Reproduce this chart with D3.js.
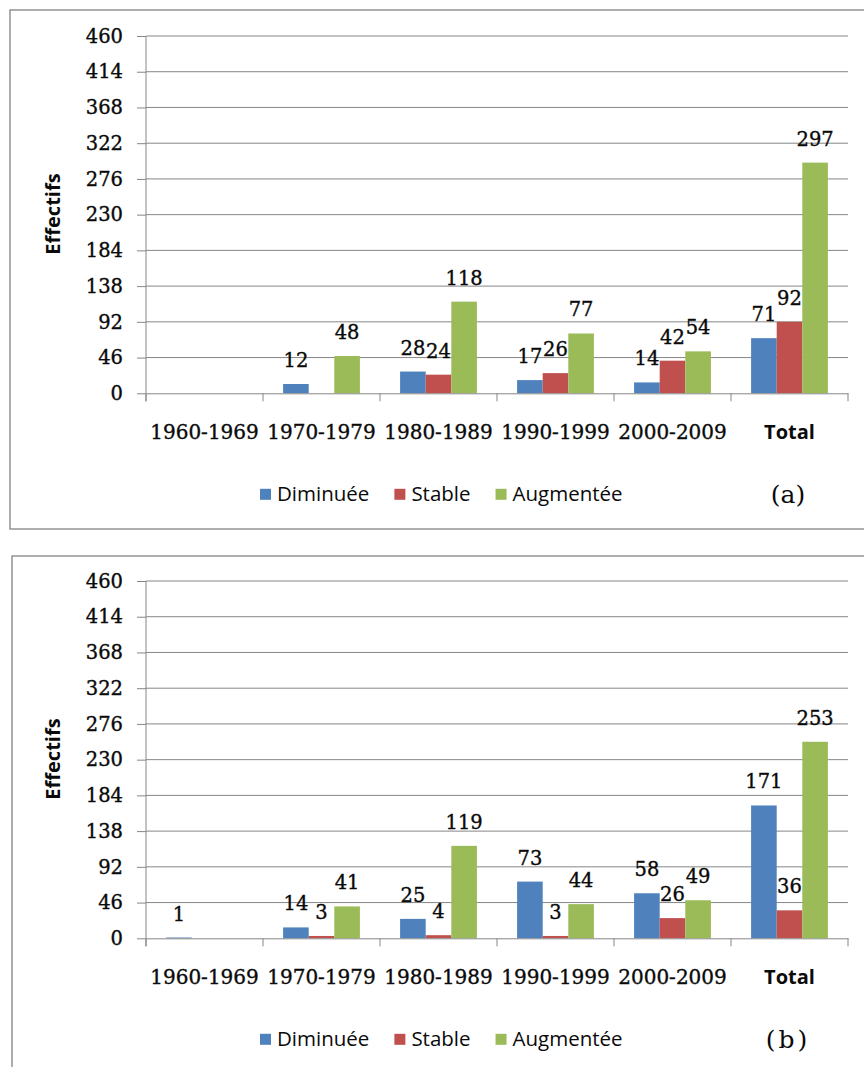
<!DOCTYPE html>
<html>
<head>
<meta charset="utf-8">
<script src="https://cdn.jsdelivr.net/npm/d3@7"></script>
<style>
  html, body { margin: 0; padding: 0; background: #ffffff; }
  svg { display: block; }
</style>
</head>
<body>
<svg id="chart" width="864" height="1067"></svg>
<script>
// ---------- data ----------
const categories = ["1960-1969", "1970-1979", "1980-1989", "1990-1999", "2000-2009", "Total"];
const seriesNames = ["Diminuée", "Stable", "Augmentée"];
const seriesColors = ["#4F81BD", "#C0504D", "#9BBB59"];
const yTicks = [0, 46, 92, 138, 184, 230, 276, 322, 368, 414, 460];
const yLabel = "Effectifs";

// panel (a)
const diminueeA  = [0, 12, 28, 17, 14, 71];
const stableA    = [0, 0, 24, 26, 42, 92];
const augmenteeA = [0, 48, 118, 77, 54, 297];
// panel (b)
const diminueeB  = [1, 14, 25, 73, 58, 171];
const stableB    = [0, 3, 4, 3, 26, 36];
const augmenteeB = [0, 41, 119, 44, 49, 253];

const panelLabels = ["(a)", "(b)"];

const panels = [
  { label: panelLabels[0], series: [diminueeA, stableA, augmenteeA], offsetY: 0, frameX: 10, frameY: 10, frameH: 519, labelSpacing: 0 },
  { label: panelLabels[1], series: [diminueeB, stableB, augmenteeB], offsetY: 545, frameX: 12, frameY: 556, frameH: 600, labelSpacing: 3 }
];

// ---------- layout ----------
const plotLeft = 146, plotRight = 848, plotTop = 36, plotBottom = 393.3;
const gridColor = "#868686";
const serif = "'DejaVu Serif', serif";
const sans = "'Open Sans', 'Noto Sans', sans-serif";
const textColor = "#0a0a0a";

const svg = d3.select("#chart");

const x = d3.scaleBand().domain(categories).range([plotLeft, plotRight]).paddingInner(0).paddingOuter(0);
const xs = d3.scaleBand().domain(seriesNames).range([0, x.bandwidth()]).paddingInner(0).paddingOuter(0.785);
const y = d3.scaleLinear().domain([0, 460]).range([plotBottom, plotTop]);

function heavy(sel) {
  return sel.attr("fill", textColor).attr("stroke", textColor).attr("stroke-width", 0.35);
}

panels.forEach(p => {
  // frame
  svg.append("rect")
    .attr("x", p.frameX).attr("y", p.frameY)
    .attr("width", 900).attr("height", p.frameH)
    .attr("fill", "none").attr("stroke", "#8c8c8c").attr("stroke-width", 1.4);

  const g = svg.append("g").attr("transform", `translate(0,${p.offsetY})`);

  // gridlines
  g.append("g").selectAll("line").data(yTicks.filter(t => t > 0)).join("line")
    .attr("x1", plotLeft).attr("x2", plotRight)
    .attr("y1", d => y(d)).attr("y2", d => y(d))
    .attr("stroke", gridColor).attr("stroke-width", 1);

  // y axis
  const yAxis = g.append("g").attr("transform", `translate(${plotLeft},0)`)
    .call(d3.axisLeft(y).tickValues(yTicks).tickSize(9).tickPadding(14).tickSizeOuter(0));
  yAxis.select(".domain").attr("stroke", gridColor).attr("d", `M0,${plotTop}V${plotBottom + 8}`);
  yAxis.selectAll(".tick line").attr("stroke", gridColor);
  heavy(yAxis.selectAll(".tick text").attr("font-family", serif).attr("font-size", 19.5));

  // y axis title
  g.append("text")
    .attr("transform", `translate(60,214) rotate(-90)`)
    .attr("text-anchor", "middle")
    .attr("font-family", sans).attr("font-weight", 700).attr("font-size", 20)
    .attr("fill", textColor)
    .text(yLabel);

  // bars
  seriesNames.forEach((s, si) => {
    const vals = p.series[si];
    g.append("g").selectAll("rect").data(categories.map((c, i) => ({ c, v: vals[i] }))).join("rect")
      .attr("x", d => x(d.c) + xs(s))
      .attr("width", xs.bandwidth())
      .attr("y", d => y(d.v))
      .attr("height", d => y(0) - y(d.v))
      .attr("fill", seriesColors[si]);
  });

  // x axis
  const xAxis = g.append("g").attr("transform", `translate(0,${plotBottom})`)
    .call(d3.axisBottom(x).tickSize(0).tickPadding(32).tickSizeOuter(0));
  xAxis.select(".domain").attr("stroke", gridColor);
  xAxis.selectAll(".tick text")
    .attr("font-family", d => d === "Total" ? sans : serif)
    .attr("font-weight", d => d === "Total" ? 700 : 400)
    .attr("font-size", 20)
    .attr("fill", textColor)
    .attr("stroke", d => d === "Total" ? "none" : textColor)
    .attr("stroke-width", 0.35);
  // boundary ticks
  const bounds = categories.map(c => x(c)).concat([x(categories[categories.length - 1]) + x.bandwidth()]);
  g.append("g").selectAll("line").data(bounds).join("line")
    .attr("x1", d => d).attr("x2", d => d)
    .attr("y1", plotBottom).attr("y2", plotBottom + 8)
    .attr("stroke", gridColor);

  // data labels
  seriesNames.forEach((s, si) => {
    const vals = p.series[si];
    heavy(g.append("g").selectAll("text").data(categories.map((c, i) => ({ c, v: vals[i] })).filter(d => d.v > 0)).join("text")
      .attr("x", d => x(d.c) + xs(s) + xs.bandwidth() / 2)
      .attr("y", d => y(d.v) - 17)
      .attr("text-anchor", "middle")
      .attr("font-family", serif).attr("font-size", 19.5)
      .text(d => d.v));
  });

  // legend
  const leg = g.append("g").attr("transform", `translate(260,${plotBottom + 101})`);
  let cx = 0;
  seriesNames.forEach((s, si) => {
    leg.append("rect").attr("x", cx).attr("y", -5.5).attr("width", 11).attr("height", 11).attr("fill", seriesColors[si]);
    const t = leg.append("text").attr("x", cx + 17).attr("y", 7)
      .attr("font-family", sans).attr("font-size", 20.5).attr("fill", textColor).text(s);
    cx += 17 + t.node().getComputedTextLength() + 25;
  });

  // panel label
  g.append("text")
    .attr("x", 788).attr("y", plotBottom + 101 + 9)
    .attr("text-anchor", "middle")
    .attr("font-family", serif).attr("font-size", 25).attr("fill", textColor)
    .attr("letter-spacing", p.labelSpacing)
    .text(p.label);
});
</script>
</body>
</html>
